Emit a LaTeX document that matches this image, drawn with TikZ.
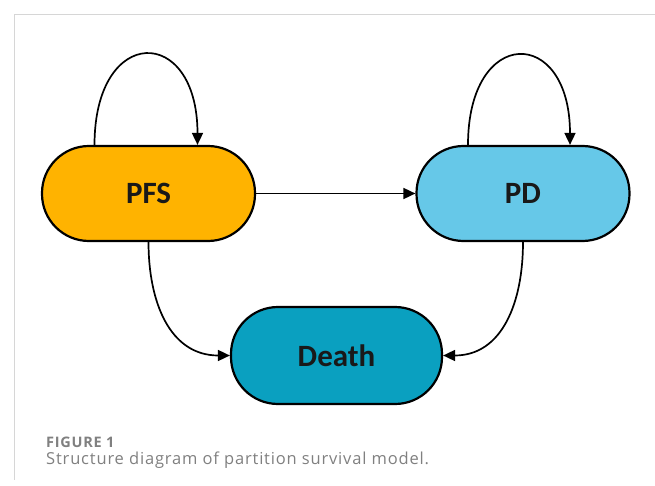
\documentclass[tikz,border=0pt]{standalone}
\usepackage{fontspec}
\setmainfont{Carlito}
\newfontfamily\capfont[LetterSpace=5]{Open Sans}
\usetikzlibrary{positioning,arrows.meta}
\definecolor{pfscol}{HTML}{FFB300}
\definecolor{pdcol}{HTML}{66C8E8}
\definecolor{deathcol}{HTML}{0AA0C0}
\definecolor{framecol}{HTML}{D6D6D6}
\definecolor{capcol}{HTML}{808080}
\tikzset{
  state/.style={draw, line width=2.2pt, rounded corners=47pt,
    minimum width=213pt, minimum height=95pt,
    font=\bfseries\fontsize{31}{36}\selectfont, text=black!90},
  arr/.style={-{Triangle[length=12pt,width=11pt]}, line width=1.7pt}
}
\begin{document}
\begin{tikzpicture}[x=1pt,y=-1pt]
	\useasboundingbox (0,0) rectangle (655,486);
	\draw[framecol, line width=1pt] (655,15) -- (14,15) -- (14,480);
	\node[state, fill=pfscol] (pfs) at (148.5,193.5) {PFS};
	\node[state, fill=pdcol] (pd) at (523,193.5) {PD};
	\node[state, fill=deathcol, minimum height=97pt, minimum width=211pt] (death) at (336.5,355.5) {Death};
	\draw[arr] ([xshift=-54pt]pfs.north) to[out=90, in=90, looseness=3] ([xshift=49pt]pfs.north);
	\draw[arr] ([xshift=-55pt]pd.north) to[out=90, in=90, looseness=3] ([xshift=47pt]pd.north);
	\draw[arr] (pfs) -- (pd);
	\draw[arr] (pfs.south) to[out=-90, in=180, looseness=1.1] (death.west);
	\draw[arr] (pd.south) to[out=-90, in=0, looseness=1.1] (death.east);
	\node[anchor=base west, inner sep=0, text=capcol, font=\capfont\bfseries\fontsize{14.5}{17}\selectfont] (fig) at (46,447) {FIGURE 1};
	\node[anchor=base west, inner sep=0, text=capcol, font=\capfont\fontsize{16.5}{20}\selectfont] (cap) at (46,464) {Structure diagram of partition survival model.};
\end{tikzpicture}
\end{document}
